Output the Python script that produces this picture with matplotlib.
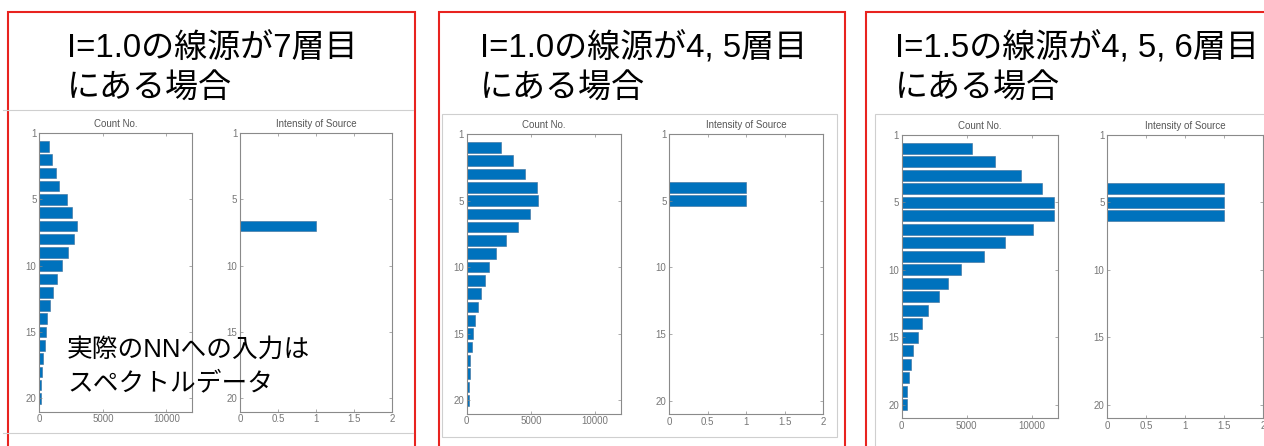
import matplotlib
matplotlib.use("Agg")
import matplotlib.pyplot as plt
from matplotlib.patches import Rectangle
from matplotlib.lines import Line2D

# Latin glyphs from Liberation Sans, Japanese falls through to Noto CJK
plt.rcParams['font.family'] = ['Liberation Sans', 'Noto Sans CJK JP', 'DejaVu Sans']

# DATA
layers = list(range(1, 21))

count_7 = [760, 970, 1310, 1580, 2150, 2550, 2970, 2730, 2230, 1760,
           1390, 1050, 840, 600, 520, 420, 320, 240, 160, 130]
count_45 = [2700, 3580, 4520, 5450, 5530, 4910, 3970, 3070, 2260, 1740,
            1430, 1120, 860, 620, 520, 390, 290, 230, 180, 160]
count_456 = [5410, 7180, 9200, 10800, 11720, 11740, 10130, 7970, 6330, 4560,
             3540, 2850, 2050, 1590, 1260, 900, 720, 540, 410, 385]

intensity_7 = [0, 0, 0, 0, 0, 0, 1.0, 0, 0, 0, 0, 0, 0, 0, 0, 0, 0, 0, 0, 0]
intensity_45 = [0, 0, 0, 1.0, 1.0, 0, 0, 0, 0, 0, 0, 0, 0, 0, 0, 0, 0, 0, 0, 0]
intensity_456 = [0, 0, 0, 1.5, 1.5, 1.5, 0, 0, 0, 0, 0, 0, 0, 0, 0, 0, 0, 0, 0, 0]

title_line1 = ["I=1.0の線源が7層目", "I=1.0の線源が4, 5層目", "I=1.5の線源が4, 5, 6層目"]
title_line2 = "にある場合"
note_lines = ["実際のNNへの入力は", "スペクトルデータ"]

y_ticks = [0, 5, 10, 15, 20]
y_ticklabels = ["1", "5", "10", "15", "20"]

W, H = 1264, 446
fig = plt.figure(figsize=(W / 100, H / 100), dpi=100)


def px_rect(x0, y0, x1, y1):
    return [x0 / W, 1 - y1 / H, (x1 - x0) / W, (y1 - y0) / H]


def style_axes(ax, title):
    ax.set_ylim(21, 0)
    ax.set_yticks(y_ticks)
    ax.set_yticklabels(y_ticklabels)
    ax.tick_params(direction="in", length=2, width=0.5, top=True, right=True,
                   labelsize=7, labelcolor="#777777", color="#888888", pad=2)
    for s in ax.spines.values():
        s.set_color("#8a8a8a")
        s.set_linewidth(0.8)
    ax.set_title(title, fontsize=7, color="#555555", pad=4)


def bars(ax, values):
    ax.barh(layers, values, height=0.8, color="#0072BD",
            edgecolor="#3b6e99", linewidth=0.4)


# red frames and grey screenshot outlines
frames = [(8, 12, 415, 470), (439, 12, 845, 470), (866, 12, 1290, 470)]
for x0, y0, x1, y1 in frames:
    fig.add_artist(Rectangle((x0 / W, 1 - y1 / H), (x1 - x0) / W, (y1 - y0) / H,
                             transform=fig.transFigure, fill=False,
                             edgecolor="#e8231f", linewidth=1.5))

grey = "#cfcfcf"
for (xa, ya, xb, yb) in [(3, 110, 413, 110), (3, 433, 413, 433)]:
    fig.add_artist(Line2D([xa / W, xb / W], [1 - ya / H, 1 - yb / H],
                          transform=fig.transFigure, color=grey, linewidth=0.8))
for x0, y0, x1, y1 in [(442, 114, 837, 436.5), (875, 114, 1290, 470)]:
    fig.add_artist(Rectangle((x0 / W, 1 - y1 / H), (x1 - x0) / W, (y1 - y0) / H,
                             transform=fig.transFigure, fill=False,
                             edgecolor=grey, linewidth=0.8))

# axes
count_boxes = [(39.3, 133, 191.7, 411.7), (466.7, 134, 620.7, 413.5),
               (901.7, 134.7, 1057.7, 418.3)]
src_boxes = [(240, 133, 392.3, 411.7), (669.3, 134, 823, 414),
             (1107.3, 134.7, 1263, 418.3)]
counts = [count_7, count_45, count_456]
intens = [intensity_7, intensity_45, intensity_456]
title_x = [67, 480, 895]

for i in range(3):
    ax = fig.add_axes(px_rect(*count_boxes[i]))
    bars(ax, counts[i])
    ax.set_xlim(0, 12000)
    ax.set_xticks([0, 5000, 10000])
    ax.set_xticklabels(["0", "5000", "10000"])
    style_axes(ax, "Count No.")

    ax2 = fig.add_axes(px_rect(*src_boxes[i]))
    bars(ax2, intens[i])
    ax2.set_xlim(0, 2)
    ax2.set_xticks([0, 0.5, 1, 1.5, 2])
    ax2.set_xticklabels(["0", "0.5", "1", "1.5", "2"])
    style_axes(ax2, "Intensity of Source")

    fig.text(title_x[i] / W, 1 - 48 / H, title_line1[i], fontsize=23.8,
             ha="left", va="center", color="black")
    fig.text(title_x[i] / W, 1 - 88 / H, title_line2, fontsize=23.8,
             ha="left", va="center", color="black")

fig.text(67 / W, 1 - 350 / H, note_lines[0], fontsize=18.5, ha="left",
         va="center", color="black")
fig.text(67 / W, 1 - 383 / H, note_lines[1], fontsize=18.5, ha="left",
         va="center", color="black")

fig.savefig("out.png", dpi=100)
